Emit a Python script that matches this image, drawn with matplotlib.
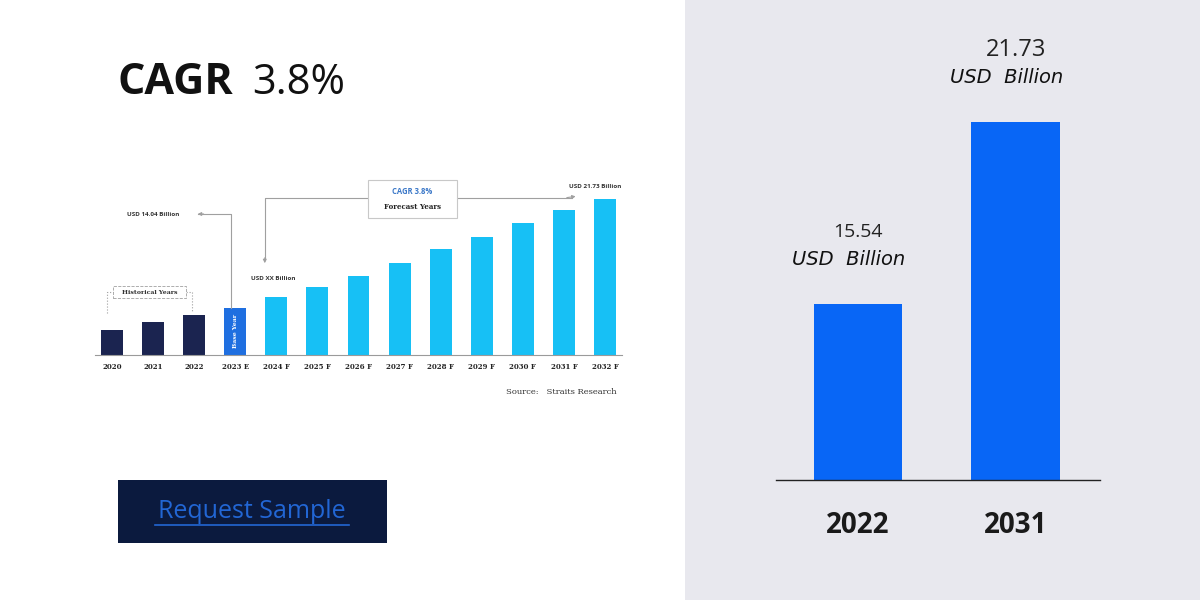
import matplotlib
matplotlib.use('Agg')
import matplotlib.pyplot as plt
from matplotlib.patches import Rectangle, FancyArrowPatch
from matplotlib.lines import Line2D

# ---- data ----
mini_years = ['2020', '2021', '2022', '2023 E', '2024 F', '2025 F', '2026 F',
              '2027 F', '2028 F', '2029 F', '2030 F', '2031 F', '2032 F']
# relative bar heights (no scale shown)
mini_heights = [25, 33, 40, 47, 58, 68, 79, 92, 106, 118, 132, 145, 156]
mini_kind = ['hist', 'hist', 'hist', 'base'] + ['fcst'] * 9

main_years = ['2022', '2031']
main_values = [15.54, 21.73]
main_num_sizes = [14, 17]

W, H = 1200, 600
def fx(x): return x / W
def fy(y): return 1 - y / H

plt.rcParams['font.family'] = ['Open Sans', 'DejaVu Sans']

fig = plt.figure(figsize=(12, 6), dpi=100)
fig.patch.set_facecolor('white')
fig.patches.append(Rectangle((fx(685), 0), 1 - fx(685), 1, transform=fig.transFigure,
                             facecolor='#e8e8ee', edgecolor='none', zorder=-10))

# ---- headline ----
fig.text(fx(117), fy(83), 'CAGR', fontsize=31, fontweight='bold',
         color='#111111', ha='left', va='center')
fig.text(fx(252), fy(83), '3.8%', fontsize=30, color='#111111', ha='left', va='center')

# ---- request sample button ----
fig.patches.append(Rectangle((fx(118), fy(543)), fx(387) - fx(118), fy(480) - fy(543),
                             transform=fig.transFigure, facecolor='#0b1a3e',
                             edgecolor='none', zorder=-5))
fig.text(fx(252), fy(511), 'Request Sample', fontsize=18, color='#2266d4',
         ha='center', va='center', zorder=2)
fig.lines.append(Line2D([fx(155), fx(349)], [fy(525), fy(525)], transform=fig.transFigure,
                        color='#2266d4', lw=1.2, zorder=2))

# ---- small embedded chart ----
ax = fig.add_axes([fx(95), fy(355), fx(622) - fx(95), fy(170) - fy(355)])
ax.set_facecolor('none')
colors = {'hist': '#1b2450', 'base': '#1f6fe0', 'fcst': '#17c0f5'}
xs = list(range(len(mini_years)))
ax.bar(xs, mini_heights, width=0.53, color=[colors[k] for k in mini_kind])
ax.set_xlim(-0.41, 12.41)
ax.set_ylim(0, 185)
for s in ['top', 'right', 'left']:
    ax.spines[s].set_visible(False)
ax.spines['bottom'].set_color('#9a9a9a')
ax.set_yticks([])
ax.set_xticks(xs)
ax.set_xticklabels(mini_years, fontsize=5, fontweight='bold', family='DejaVu Serif',
                   color='#222222')
ax.tick_params(axis='x', length=0, pad=6)

ax.text(3, mini_heights[3] / 2, 'Base Year', rotation=90, color='white', fontsize=4.5,
        fontweight='bold', family='DejaVu Serif', ha='center', va='center')

gray = '#a0a0a0'
# historical years bracket
ax.plot([-0.12, -0.12, 1.95, 1.95], [42, 63, 63, 43], color=gray, lw=0.8, ls=':',
        clip_on=False)
ax.add_patch(Rectangle((0.02, 57), 1.78, 12, facecolor='white', edgecolor=gray,
                       lw=0.6, ls='--', clip_on=False, zorder=3))
ax.text(0.91, 63, 'Historical Years', fontsize=4.5, fontweight='bold', family='DejaVu Serif',
        ha='center', va='center', color='#333333', zorder=4)

# USD 14.04 Billion pointer
ax.plot([2.9, 2.9, 2.1], [mini_heights[3], 141, 141], color=gray, lw=0.8, clip_on=False)
ax.add_patch(FancyArrowPatch((2.3, 141), (2.02, 141), arrowstyle='-|>', mutation_scale=5,
                             color=gray, lw=0.8, clip_on=False))
ax.text(1.0, 141, 'USD 14.04 Billion', fontsize=4.5, fontweight='bold', ha='center',
        va='center', color='#333333')

# forecast connector
ax.plot([6.23, 3.72, 3.72], [157, 157, 95], color=gray, lw=0.8, clip_on=False)
ax.add_patch(FancyArrowPatch((3.72, 100), (3.72, 89), arrowstyle='-|>', mutation_scale=5,
                             color=gray, lw=0.8, clip_on=False))
ax.plot([8.39, 11.2], [157, 157], color=gray, lw=0.8, clip_on=False)
ax.add_patch(FancyArrowPatch((11.0, 157), (11.35, 159), arrowstyle='-|>', mutation_scale=5,
                             color=gray, lw=0.8, clip_on=False))
ax.add_patch(Rectangle((6.23, 137), 2.16, 38, facecolor='white', edgecolor='#c8c8c8',
                       lw=0.8, clip_on=False, zorder=3))
ax.text(7.31, 163, 'CAGR 3.8%', fontsize=5.5, fontweight='bold', color='#3b78c8',
        ha='center', va='center', zorder=4)
ax.text(7.31, 148, 'Forecast Years', fontsize=5, fontweight='bold', family='DejaVu Serif',
        color='#222222', ha='center', va='center', zorder=4)
ax.text(3.92, 77, 'USD XX Billion', fontsize=4.5, fontweight='bold', ha='center',
        va='center', color='#333333')
ax.text(11.75, 168, 'USD 21.73 Billion', fontsize=4.5, fontweight='bold', ha='center',
        va='center', color='#333333')

fig.text(fx(617), fy(392), 'Source:   Straits Research', fontsize=6, family='DejaVu Serif',
         color='#333333', ha='right', va='center')

# ---- main comparison chart ----
ax2 = fig.add_axes([fx(776), fy(480), fx(1100) - fx(776), fy(20) - fy(480)])
ax2.set_facecolor('none')
pos = [0, 1]
ax2.bar(pos, main_values, width=0.563, color='#0866f6')
ax2.set_xlim(-0.519, 1.532)
ax2.set_ylim(9.55, 25.21)
for s in ['top', 'right', 'left']:
    ax2.spines[s].set_visible(False)
ax2.spines['bottom'].set_color('#222222')
ax2.spines['bottom'].set_linewidth(1.0)
ax2.set_yticks([])
ax2.set_xticks(pos)
ax2.set_xticklabels(main_years, fontsize=20, fontweight='bold', color='#1a1a1a')
ax2.tick_params(axis='x', length=0, pad=22)

for p, v, fs in zip(pos, main_values, main_num_sizes):
    ax2.annotate(f'{v:.2f}', (p, v), xytext=(0, 52), textcoords='offset points',
                 ha='center', va='center', fontsize=fs, color='#222222')
    ax2.annotate('USD  Billion', (p - 0.06, v), xytext=(0, 32), textcoords='offset points',
                 ha='center', va='center', fontsize=14, style='italic',
                 family='DejaVu Sans', color='#111111')

fig.savefig('out.png', dpi=100, facecolor=fig.get_facecolor())
